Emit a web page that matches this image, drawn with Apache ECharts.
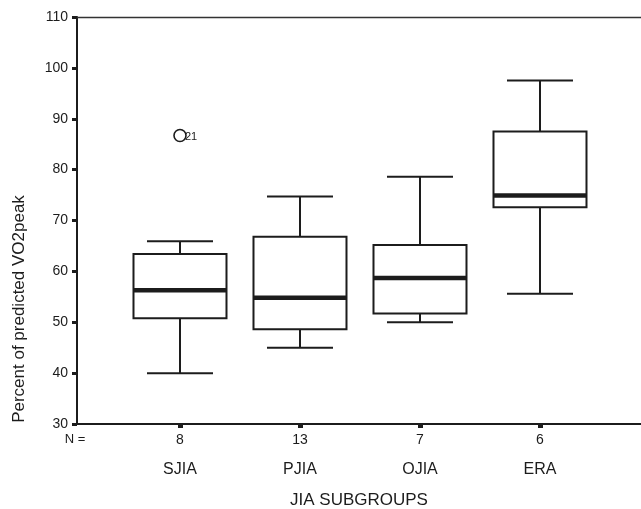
<!DOCTYPE html>
<html>
<head>
<meta charset="utf-8">
<script src="https://cdn.jsdelivr.net/npm/echarts@6/dist/echarts.min.js"></script>
<style>
html,body{margin:0;padding:0;background:#fff;}
#chart{width:641px;height:509px;}
</style>
</head>
<body>
<div id="chart"></div>
<script>
// box plot data
var groups = ['SJIA', 'PJIA', 'OJIA', 'ERA'];
var counts = [8, 13, 7, 6];
var lowWhisker = [40, 45, 50, 55.6];
var q1 = [50.8, 48.6, 51.7, 72.6];
var median = [56.3, 54.8, 58.7, 74.9];
var q3 = [63.4, 66.8, 65.2, 87.5];
var highWhisker = [65.9, 74.7, 78.6, 97.5];
var outlierX = [1];
var outlierY = [86.7];
var outlierLabel = ['21'];
var yTicks = [30, 40, 50, 60, 70, 80, 90, 100, 110];

var FONT = '"Liberation Sans", Arial, sans-serif';
var INK = '#1c1c1c';

var boxData = groups.map(function (g, i) {
  return [i + 1, lowWhisker[i], q1[i], median[i], q3[i], highWhisker[i]];
});
var outData = outlierX.map(function (x, i) { return [x, outlierY[i], outlierLabel[i]]; });

var chart = echarts.init(document.getElementById('chart'));

function renderBox(params, api) {
  var x = api.value(0);
  var pLow = api.coord([x, api.value(1)]);
  var pQ1 = api.coord([x, api.value(2)]);
  var pMed = api.coord([x, api.value(3)]);
  var pQ3 = api.coord([x, api.value(4)]);
  var pHigh = api.coord([x, api.value(5)]);
  var cx = pMed[0];
  var hb = 46.5, hw = 33;
  var ls = { stroke: INK, lineWidth: 2, fill: null };
  return {
    type: 'group',
    children: [
      { type: 'line', shape: { x1: cx, y1: pHigh[1], x2: cx, y2: pQ3[1] }, style: ls },
      { type: 'line', shape: { x1: cx, y1: pQ1[1], x2: cx, y2: pLow[1] }, style: ls },
      { type: 'line', shape: { x1: cx - hw, y1: pHigh[1], x2: cx + hw, y2: pHigh[1] }, style: ls },
      { type: 'line', shape: { x1: cx - hw, y1: pLow[1], x2: cx + hw, y2: pLow[1] }, style: ls },
      { type: 'rect', shape: { x: cx - hb, y: pQ3[1], width: hb * 2, height: pQ1[1] - pQ3[1] },
        style: { stroke: INK, lineWidth: 2, fill: '#fff' } },
      { type: 'line', shape: { x1: cx - hb, y1: pMed[1], x2: cx + hb, y2: pMed[1] },
        style: { stroke: INK, lineWidth: 4.5 } }
    ]
  };
}

function renderOutlier(params, api) {
  var p = api.coord([api.value(0), api.value(1)]);
  return {
    type: 'group',
    children: [
      { type: 'circle', shape: { cx: p[0], cy: p[1], r: 6 },
        style: { stroke: INK, lineWidth: 1.6, fill: '#fff' } },
      { type: 'text', x: p[0] + 5, y: p[1] + 1,
        style: { text: api.value(2), font: '11px ' + FONT, fill: INK,
                 verticalAlign: 'middle', align: 'left' } }
    ]
  };
}

var option = {
  animation: false,
  grid: { left: 77, right: 0, top: 17, bottom: 85, outerBoundsMode: 'none', containLabel: false },
  xAxis: [{
    type: 'value',
    min: 0.1417,
    max: 4.8417,
    splitLine: { show: false },
    axisLine: { show: true, onZero: false, lineStyle: { color: INK, width: 2 } },
    axisTick: { show: true, customValues: [1, 2, 3, 4], length: 4, lineStyle: { color: INK, width: 5 } },
    axisLabel: {
      customValues: [1, 2, 3, 4],
      margin: 7,
      formatter: function (v) {
        var i = Math.round(v) - 1;
        return '{n|' + counts[i] + '}\n{c|' + groups[i] + '}';
      },
      rich: {
        n: { fontFamily: FONT, fontSize: 14, lineHeight: 18, color: INK },
        c: { fontFamily: FONT, fontSize: 16, lineHeight: 42, color: INK }
      }
    },
    name: 'JIA SUBGROUPS',
    nameLocation: 'middle',
    nameGap: 68,
    nameTextStyle: { fontFamily: FONT, fontSize: 17, color: INK }
  }, {
    type: 'value',
    position: 'top',
    min: 0.1417,
    max: 4.8417,
    splitLine: { show: false },
    axisLine: { show: true, onZero: false, lineStyle: { color: '#333', width: 1.3 } },
    axisTick: { show: false },
    axisLabel: { show: false }
  }],
  yAxis: {
    type: 'value',
    min: 30,
    max: 110,
    interval: 10,
    splitLine: { show: false },
    axisLine: { show: true, lineStyle: { color: INK, width: 2 } },
    axisTick: { show: true, length: 5, lineStyle: { color: INK, width: 3 } },
    axisLabel: {
      margin: 9,
      fontFamily: FONT, fontSize: 14, color: INK,
      formatter: function (v) { return yTicks.indexOf(v) >= 0 ? String(v) : ''; }
    }
  },
  graphic: [
    {
      type: 'text', x: 19, y: 309, rotation: Math.PI / 2,
      style: { text: 'Percent of predicted VO2peak', font: '17px ' + FONT, fill: INK,
               align: 'center', verticalAlign: 'middle' }
    },
    {
      type: 'text', x: 75, y: 439,
      style: { text: 'N =', font: '13px ' + FONT, fill: INK, align: 'center', verticalAlign: 'middle' }
    }
  ],
  series: [
    { type: 'custom', xAxisIndex: 0, renderItem: renderBox, data: boxData, encode: { x: 0, y: [1, 2, 3, 4, 5] } },
    { type: 'custom', xAxisIndex: 0, renderItem: renderOutlier, data: outData, encode: { x: 0, y: 1 } }
  ]
};
chart.setOption(option);
</script>
</body>
</html>
